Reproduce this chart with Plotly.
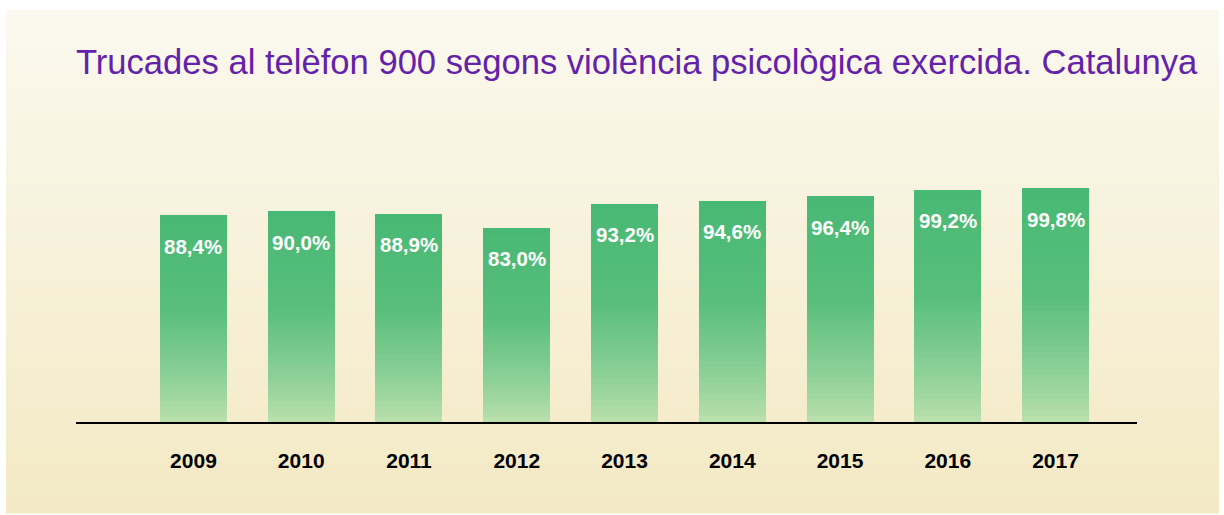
import plotly.graph_objects as go

years = ["2009", "2010", "2011", "2012", "2013", "2014", "2015", "2016", "2017"]
values = [88.4, 90.0, 88.9, 83.0, 93.2, 94.6, 96.4, 99.2, 99.8]
labels = ["88,4%", "90,0%", "88,9%", "83,0%", "93,2%", "94,6%", "96,4%", "99,2%", "99,8%"]
title_text = "Trucades al telèfon 900 segons violència psicològica exercida. Catalunya"

W, H = 1224, 515
L, R, T, B = 76, 87, 130, 93
plot_w = W - L - R
plot_h = H - T - B


def lerp(c1, c2, t):
    return "rgb(%d,%d,%d)" % tuple(round(a + (b - a) * t) for a, b in zip(c1, c2))


fig = go.Figure()

N = 40
top_c = (72, 185, 116)
mid_c = (88, 190, 124)
bot_c = (190, 225, 175)
for k in range(N):
    f = (k + 0.5) / N
    if f < 0.55:
        col = lerp(bot_c, mid_c, (f / 0.55) ** 0.8)
    else:
        col = lerp(mid_c, top_c, (f - 0.55) / 0.45)
    fig.add_trace(go.Bar(
        x=years, y=[v / N for v in values], marker=dict(color=col, line=dict(width=0)),
        width=0.622, hoverinfo="skip", showlegend=False,
    ))

annotations = []
for i, (yr, v, lab) in enumerate(zip(years, values, labels)):
    annotations.append(dict(x=i, y=v, xref="x", yref="y", text="<b>" + lab + "</b>", showarrow=False,
                            yshift=-31, xanchor="center", yanchor="middle",
                            font=dict(family="Liberation Sans, Arial", size=20.5, color="white")))

shapes = []
S = 60
px0, px1, py0, py1 = 6, 1219, 10, 513
top_bg = (251, 249, 239)
bot_bg = (243, 233, 196)
for i in range(S):
    y0p = py0 + (py1 - py0) * i / S
    y1p = py0 + (py1 - py0) * (i + 1) / S + 0.5
    col = lerp(top_bg, bot_bg, (i + 0.5) / S)
    shapes.append(dict(type="rect", xref="paper", yref="paper", layer="below",
                       x0=(px0 - L) / plot_w, x1=(px1 - L) / plot_w,
                       y0=(H - B - y1p) / plot_h, y1=(H - B - y0p) / plot_h,
                       fillcolor=col, line=dict(width=0)))

fig.update_layout(
    width=W, height=H, barmode="stack", bargap=0,
    margin=dict(l=L, r=R, t=T, b=B),
    paper_bgcolor="white", plot_bgcolor="rgba(0,0,0,0)",
    shapes=shapes, annotations=annotations,
    title=dict(text=title_text, x=L / W, xanchor="left", xref="container",
               y=1 - 62 / H, yanchor="middle",
               font=dict(family="Liberation Sans, Arial", size=34.6, color="#6322aa")),
    xaxis=dict(type="category", range=[-1.09, 8.756], showline=True, linecolor="black", linewidth=1.5,
               showgrid=False, zeroline=False, ticks="", ticklabelstandoff=19,
               tickfont=dict(family="Liberation Sans, Arial", size=21, color="black", weight="bold")),
    yaxis=dict(range=[0, plot_h / 2.34], visible=False, showgrid=False, zeroline=False),
)

fig.write_html("out.html", config={"displayModeBar": False},
               post_script="document.body.style.margin='0px';")
